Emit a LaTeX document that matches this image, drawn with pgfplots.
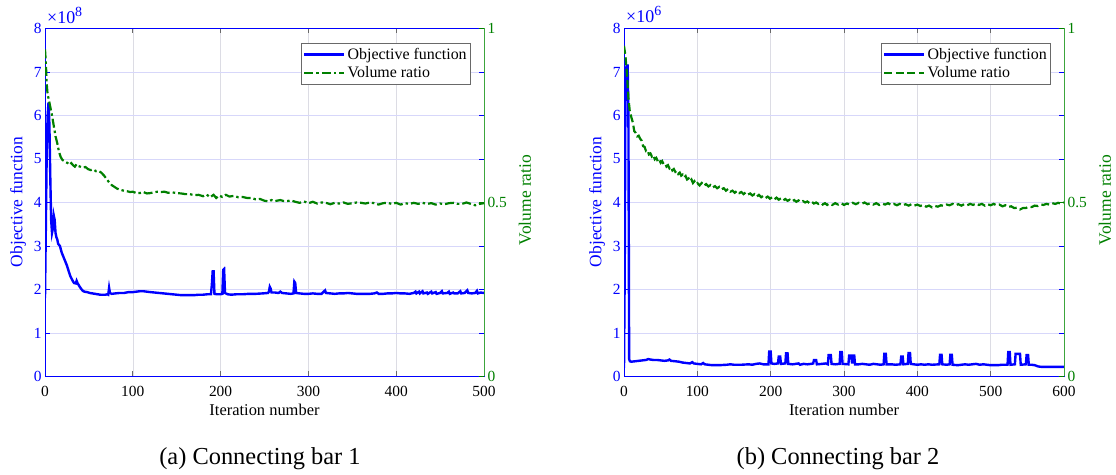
\documentclass[border=0pt]{standalone}
\usepackage{fontspec}
\setmainfont{Liberation Serif}
\usepackage{pgfplots}
\pgfplotsset{compat=1.18}
\definecolor{objblue}{RGB}{0,0,255}
\definecolor{volgreen}{RGB}{0,128,0}
\definecolor{rgreen}{RGB}{60,165,60}
\definecolor{hgrid}{RGB}{215,215,250}
\definecolor{vgrid}{RGB}{220,220,228}
\definecolor{boxgray}{RGB}{105,105,105}
\newcommand{\tickfont}{\fontsize{15.5}{18}\selectfont}
\pgfplotsset{
  leftax/.style={
    scale only axis, anchor=south west,
    height=348bp, ymin=0, ymax=8, ytick={0,1,...,8},
    scaled y ticks=false, scaled x ticks=false,
    tick align=inside, major tick length=5bp,
    xmajorgrids, ymajorgrids,
    x grid style={vgrid, line width=0.6bp},
    y grid style={hgrid, line width=0.6bp},
    x axis line style={boxgray, line width=0.7bp},
    y axis line style={objblue, line width=0.7bp},
    xtick style={boxgray, line width=0.7bp},
    ytick style={objblue, line width=0.7bp},
    yticklabel style={objblue, font=\tickfont},
    xticklabel style={black, font=\tickfont, yshift=-6bp},
    /pgf/number format/assume math mode=true,
    clip mode=individual,
  },
  rightax/.style={
    scale only axis, anchor=south west,
    height=348bp, ymin=0, ymax=1, ytick={0,0.5,1},
    axis x line=none, axis y line*=right,
    tick align=inside, major tick length=5bp,
    y axis line style={rgreen, line width=0.8bp},
    ytick style={volgreen, line width=0.7bp},
    yticklabel style={volgreen, font=\tickfont},
    /pgf/number format/assume math mode=true,
    clip mode=individual,
    legend cell align=left,
    legend style={at={(1,1)}, anchor=north east, xshift=-13bp, yshift=-14.5bp,
      draw=boxgray, fill=white, line width=0.6bp, font=\fontsize{16}{19}\selectfont,
      inner xsep=2bp, inner ysep=3bp, row sep=1.5bp},
    legend image code/.code={\draw[##1] (0bp,0bp) -- (40bp,0bp);},
  },
}
\begin{document}
\begin{tikzpicture}[x=1bp,y=1bp]
\useasboundingbox (0,0) rectangle (1116,475);
% ================= Panel (a) =================
\begin{axis}[leftax, at={(45bp,98.5bp)}, width=439bp, xmin=0, xmax=500, xtick={0,100,...,500}]
\addplot[objblue, line width=2.4bp] coordinates {
(0,1.80)(1,3.5)(2,5.2)(3,6.0)(4,6.3)(5,5.8)(6,4.6)(7,3.6)(8,3.3)(9,3.4)(10,3.7)(11,3.6)(12,3.3)(13,3.2)(14,3.15)(15,3.05)(17,3.0)(19,2.85)(21,2.75)(23,2.65)(25,2.55)(27,2.42)(29,2.30)(31,2.22)(33,2.15)(35,2.14)(36,2.20)(37,2.15)(39,2.08)(41,2.02)(43,1.97)(45,1.95)(48,1.94)(51,1.92)(54,1.91)(57,1.90)(60,1.89)(63,1.88)(66,1.88)(69,1.88)(71,1.89)(72,1.88)(73,2.04)(74,1.92)(76,1.90)(80,1.91)(85,1.92)(90,1.92)(95,1.94)(100,1.94)(104,1.95)(108,1.96)(112,1.96)(116,1.95)(120,1.94)(125,1.93)(130,1.92)(135,1.91)(140,1.90)(145,1.89)(150,1.88)(155,1.87)(160,1.87)(165,1.87)(170,1.87)(175,1.88)(180,1.88)(185,1.89)(189,1.89)(190,2.10)(191,2.42)(192,2.42)(193,1.90)(196,1.89)(200,1.89)(202,1.90)(203,2.45)(204,2.47)(205,1.92)(208,1.89)(212,1.88)(218,1.89)(225,1.89)(232,1.90)(240,1.90)(248,1.91)(254,1.92)(255,1.95)(256,2.06)(257,2.02)(258,1.93)(262,1.93)(266,1.92)(268,1.95)(270,1.92)(275,1.91)(280,1.90)(283,1.91)(284,2.18)(285,2.15)(286,1.92)(290,1.91)(295,1.90)(300,1.90)(305,1.91)(310,1.90)(315,1.90)(318,1.96)(319,1.98)(320,1.92)(325,1.91)(330,1.90)(335,1.91)(340,1.91)(345,1.92)(350,1.91)(355,1.90)(360,1.90)(365,1.90)(370,1.90)(375,1.91)(378,1.93)(380,1.90)(385,1.90)(390,1.91)(395,1.91)(400,1.92)(405,1.91)(410,1.91)(415,1.90)(420,1.92)(422,1.95)(423,1.91)(426,1.95)(427,1.91)(430,1.96)(431,1.91)(435,1.93)(436,1.90)(440,1.95)(441,1.91)(445,1.94)(446,1.90)(450,1.92)(452,1.96)(453,1.91)(458,1.92)(460,1.95)(461,1.90)(465,1.93)(466,1.91)(470,1.91)(473,1.96)(474,1.91)(478,1.92)(481,1.98)(482,1.92)(486,1.91)(490,1.92)(492,1.97)(493,1.91)(496,1.93)(500,1.92)
};
\end{axis}
\begin{axis}[rightax, at={(45bp,98.5bp)}, width=439bp, xmin=0, xmax=500]
\addlegendimage{objblue, line width=2.4bp}
\addlegendentry{Objective function}
\addplot[volgreen, line width=2.2bp, dash pattern=on 9bp off 3bp on 2.5bp off 3bp] coordinates {
(0,0.94)(1,0.90)(2,0.84)(3,0.81)(4,0.80)(6,0.775)(8,0.75)(10,0.72)(12,0.69)(14,0.67)(16,0.645)(18,0.63)(20,0.622)(23,0.617)(26,0.613)(28,0.608)(30,0.613)(32,0.607)(34,0.603)(36,0.610)(38,0.605)(40,0.603)(43,0.600)(46,0.602)(49,0.596)(52,0.593)(55,0.595)(58,0.590)(61,0.591)(64,0.586)(67,0.578)(70,0.568)(73,0.558)(76,0.550)(79,0.545)(82,0.540)(85,0.537)(88,0.535)(91,0.533)(94,0.532)(97,0.530)(100,0.531)(104,0.527)(108,0.527)(112,0.530)(116,0.526)(120,0.527)(124,0.529)(128,0.531)(132,0.530)(136,0.531)(140,0.528)(145,0.529)(150,0.527)(155,0.526)(160,0.524)(165,0.524)(170,0.521)(175,0.522)(180,0.518)(184,0.523)(188,0.515)(192,0.522)(195,0.513)(198,0.520)(202,0.516)(206,0.522)(210,0.517)(215,0.519)(220,0.515)(225,0.516)(230,0.513)(235,0.513)(240,0.509)(245,0.510)(250,0.505)(255,0.503)(258,0.507)(262,0.504)(268,0.507)(272,0.504)(276,0.504)(280,0.506)(285,0.502)(290,0.499)(295,0.503)(300,0.498)(305,0.502)(310,0.497)(315,0.500)(320,0.499)(325,0.495)(330,0.499)(335,0.497)(340,0.500)(345,0.496)(350,0.498)(355,0.500)(360,0.499)(365,0.497)(370,0.500)(375,0.498)(380,0.494)(385,0.498)(390,0.499)(395,0.496)(400,0.499)(405,0.494)(410,0.498)(415,0.496)(420,0.499)(425,0.496)(430,0.499)(435,0.496)(440,0.498)(445,0.494)(450,0.497)(455,0.495)(460,0.498)(465,0.499)(470,0.496)(475,0.496)(480,0.500)(485,0.496)(490,0.492)(495,0.496)(500,0.498)
};
\addlegendentry{Volume ratio}
\end{axis}
% ================= Panel (b) =================
\begin{axis}[leftax, at={(624bp,98.5bp)}, width=440bp, xmin=0, xmax=600, xtick={0,100,...,600}]
\addplot[objblue, line width=2.4bp] coordinates {
(0,0.20)(1,2.5)(2,6.8)(3,7.1)(4,7.15)(5,7.15)(6,6.0)(7,0.40)(8,0.35)(10,0.34)(15,0.35)(20,0.36)(25,0.37)(30,0.38)(33,0.40)(36,0.39)(40,0.38)(45,0.38)(50,0.37)(55,0.36)(60,0.37)(62,0.39)(64,0.36)(70,0.35)(75,0.34)(80,0.32)(85,0.31)(90,0.30)(93,0.33)(95,0.30)(100,0.29)(105,0.28)(108,0.31)(110,0.28)(115,0.27)(120,0.26)(130,0.26)(140,0.27)(145,0.28)(150,0.27)(160,0.27)(170,0.28)(175,0.27)(180,0.29)(185,0.30)(190,0.28)(197,0.28)(198,0.57)(200,0.57)(201,0.30)(205,0.29)(210,0.30)(211,0.46)(213,0.46)(214,0.29)(220,0.30)(221,0.53)(223,0.53)(224,0.29)(230,0.28)(238,0.30)(240,0.27)(245,0.29)(250,0.28)(255,0.29)(258,0.30)(259,0.38)(262,0.38)(263,0.28)(270,0.29)(275,0.30)(278,0.28)(279,0.49)(282,0.49)(283,0.29)(288,0.28)(294,0.29)(295,0.56)(297,0.56)(298,0.29)(306,0.28)(307,0.48)(310,0.48)(311,0.30)(312,0.48)(314,0.48)(315,0.28)(320,0.28)(325,0.29)(330,0.28)(335,0.27)(340,0.29)(345,0.28)(350,0.27)(354,0.28)(355,0.52)(357,0.52)(358,0.28)(365,0.28)(370,0.27)(377,0.28)(378,0.46)(380,0.46)(381,0.28)(387,0.29)(388,0.54)(390,0.54)(391,0.29)(395,0.28)(400,0.27)(405,0.28)(410,0.27)(415,0.28)(420,0.27)(430,0.28)(431,0.50)(433,0.50)(434,0.28)(440,0.27)(444,0.28)(445,0.50)(447,0.50)(448,0.27)(455,0.26)(460,0.27)(465,0.28)(470,0.27)(475,0.28)(480,0.29)(485,0.27)(490,0.28)(500,0.26)(510,0.26)(515,0.27)(523,0.27)(524,0.56)(526,0.56)(527,0.27)(533,0.28)(534,0.52)(540,0.52)(541,0.27)(548,0.28)(549,0.49)(551,0.49)(552,0.27)(556,0.27)(560,0.26)(565,0.23)(570,0.22)(580,0.22)(590,0.22)(600,0.22)
};
\end{axis}
\begin{axis}[rightax, at={(624bp,98.5bp)}, width=440bp, xmin=0, xmax=600]
\addlegendimage{objblue, line width=2.4bp}
\addlegendentry{Objective function}
\addplot[volgreen, line width=2.2bp, dash pattern=on 8bp off 3.5bp] coordinates {
(0,0.95)(2,0.92)(4,0.87)(6,0.80)(8,0.76)(10,0.745)(12,0.73)(14,0.705)(16,0.70)(18,0.69)(20,0.692)(22,0.683)(24,0.678)(26,0.662)(28,0.660)(30,0.648)(32,0.650)(34,0.638)(36,0.641)(38,0.632)(40,0.636)(42,0.624)(44,0.628)(46,0.619)(48,0.624)(50,0.614)(52,0.619)(54,0.610)(56,0.612)(58,0.603)(60,0.607)(62,0.598)(64,0.602)(66,0.592)(68,0.596)(70,0.588)(72,0.591)(74,0.582)(76,0.586)(78,0.577)(80,0.580)(82,0.572)(84,0.576)(86,0.566)(88,0.569)(90,0.561)(92,0.566)(94,0.556)(96,0.561)(98,0.553)(100,0.556)(103,0.549)(106,0.556)(109,0.548)(112,0.553)(115,0.546)(118,0.550)(121,0.543)(124,0.547)(127,0.541)(130,0.545)(133,0.538)(136,0.541)(139,0.534)(142,0.539)(145,0.531)(148,0.534)(151,0.528)(154,0.533)(157,0.527)(160,0.530)(163,0.524)(166,0.529)(169,0.523)(172,0.526)(175,0.520)(178,0.524)(181,0.517)(184,0.522)(187,0.515)(190,0.519)(193,0.513)(196,0.517)(199,0.511)(202,0.515)(205,0.509)(208,0.514)(211,0.508)(214,0.512)(217,0.506)(220,0.510)(223,0.505)(226,0.508)(229,0.503)(232,0.507)(235,0.502)(238,0.506)(241,0.501)(244,0.504)(247,0.500)(250,0.503)(253,0.498)(256,0.502)(259,0.497)(262,0.500)(265,0.496)(268,0.499)(271,0.494)(274,0.498)(277,0.493)(280,0.497)(284,0.493)(288,0.498)(292,0.494)(296,0.498)(300,0.493)(304,0.497)(308,0.494)(312,0.499)(316,0.495)(320,0.499)(324,0.496)(328,0.500)(332,0.495)(336,0.498)(340,0.494)(344,0.498)(348,0.493)(352,0.497)(356,0.494)(360,0.498)(364,0.493)(368,0.496)(372,0.492)(376,0.496)(380,0.492)(384,0.495)(388,0.491)(392,0.495)(396,0.491)(400,0.494)(404,0.490)(408,0.493)(412,0.488)(416,0.491)(420,0.486)(424,0.490)(428,0.488)(432,0.492)(436,0.490)(440,0.494)(444,0.492)(448,0.496)(452,0.492)(456,0.495)(460,0.491)(464,0.495)(468,0.492)(472,0.496)(476,0.493)(480,0.497)(484,0.493)(488,0.496)(492,0.491)(496,0.495)(500,0.492)(504,0.496)(508,0.492)(512,0.494)(516,0.489)(520,0.492)(524,0.487)(528,0.489)(532,0.484)(536,0.485)(540,0.480)(544,0.484)(548,0.484)(552,0.488)(556,0.487)(560,0.491)(564,0.490)(568,0.494)(572,0.493)(576,0.496)(580,0.494)(584,0.498)(588,0.496)(592,0.499)(596,0.497)(600,0.500)
};
\addlegendentry{Volume ratio}
\end{axis}
% ================= Labels =================
\node[font=\fontsize{18}{20}\selectfont, text=objblue, anchor=base west, inner sep=0] at (47,451) {×10\raisebox{7bp}{\fontsize{14}{16}\selectfont 8}};
\node[font=\fontsize{18}{20}\selectfont, text=objblue, anchor=base west, inner sep=0] at (626,452) {×10\raisebox{7bp}{\fontsize{14}{16}\selectfont 6}};
\node[font=\fontsize{17.5}{20}\selectfont, text=objblue, rotate=90] at (18,273) {Objective function};
\node[font=\fontsize{17.5}{20}\selectfont, text=objblue, rotate=90] at (597,273) {Objective function};
\node[font=\fontsize{17.5}{20}\selectfont, text=volgreen, rotate=90] at (525,275) {Volume ratio};
\node[font=\fontsize{17.5}{20}\selectfont, text=volgreen, rotate=90] at (1105,275) {Volume ratio};
\node[font=\fontsize{16.5}{19}\selectfont, anchor=base] at (264.5,59) {Iteration number};
\node[font=\fontsize{16.5}{19}\selectfont, anchor=base] at (844,59) {Iteration number};
\node[font=\fontsize{24.5}{28}\selectfont, anchor=base] at (260,10) {(a) Connecting bar 1};
\node[font=\fontsize{24.5}{28}\selectfont, anchor=base] at (838,10) {(b) Connecting bar 2};
\end{tikzpicture}
\end{document}
